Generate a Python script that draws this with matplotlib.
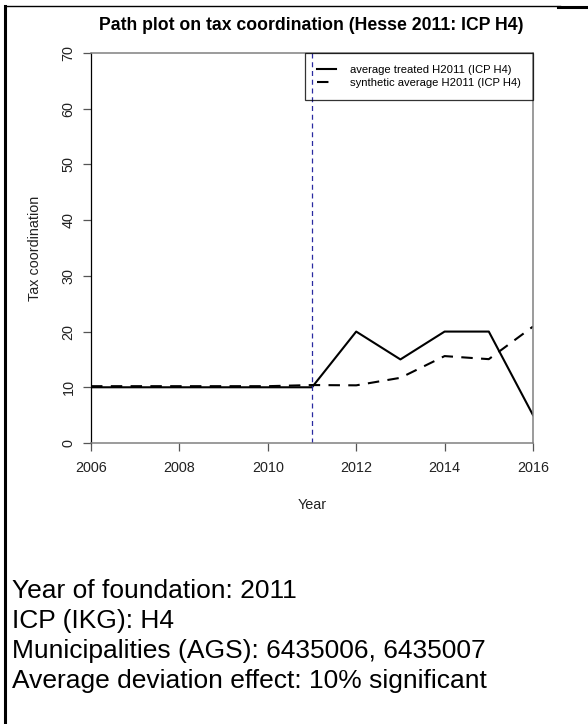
import matplotlib.pyplot as plt
from matplotlib.lines import Line2D

# dados do grafico
anos = [2006, 2007, 2008, 2009, 2010, 2011, 2012, 2013, 2014, 2015, 2016]
tratado = [10, 10, 10, 10, 10, 10, 20, 15, 20, 20, 5]
sintetico = [10.2, 10.2, 10.2, 10.2, 10.2, 10.4, 10.35, 11.7, 15.6, 15.05, 20.9]
ano_fundacao = 2011
x_ticks = [2006, 2008, 2010, 2012, 2014, 2016]
y_ticks = [0, 10, 20, 30, 40, 50, 60, 70]
legenda = ["average treated H2011 (ICP H4)", "synthetic average H2011 (ICP H4)"]
info = ["Year of foundation: 2011",
        "ICP (IKG): H4",
        "Municipalities (AGS): 6435006, 6435007",
        "Average deviation effect: 10% significant"]

plt.rcParams['font.family'] = ['Liberation Sans', 'DejaVu Sans']

W, H = 588, 724
fig = plt.figure(figsize=(W / 100, H / 100), dpi=100)

# posicao do eixo em pixels (esq, dir, topo, base)
l, r, t, b = 91, 533, 53, 443
ax = fig.add_axes([l / W, (H - b) / H, (r - l) / W, (b - t) / H])

ax.plot(anos, tratado, color="black", lw=1.5, label=legenda[0])
ax.plot(anos, sintetico, color="black", lw=1.5, dashes=(5.5, 4), label=legenda[1])
ax.axvline(ano_fundacao, color="#2a2aa0", lw=0.9, linestyle=(0, (4, 3)))

ax.set_xlim(2006, 2016)
ax.set_ylim(0, 70)
ax.set_xticks(x_ticks)
ax.set_yticks(y_ticks)
ax.tick_params(axis="both", direction="out", length=6, width=0.9, colors="#555555",
               labelcolor="#222222", labelsize=10.4)
ax.tick_params(axis="x", pad=7)
ax.tick_params(axis="y", pad=5)
for lab in ax.get_yticklabels():
    lab.set_rotation(90)
    lab.set_va("center")

for lado in ["top", "right", "bottom"]:
    ax.spines[lado].set_color("#808080")
    ax.spines[lado].set_linewidth(1.1)
ax.spines["left"].set_color("black")
ax.spines["left"].set_linewidth(0.9)

leg = ax.legend(loc="upper right", bbox_to_anchor=(1, 1), borderaxespad=0,
                fontsize=8.1, fancybox=False, edgecolor="black",
                handlelength=1.7, handletextpad=1.3, borderpad=1.05,
                labelspacing=0.3)
leg.get_frame().set_facecolor("none")
leg.get_frame().set_linewidth(0.9)

# textos
fig.text(311 / W, 1 - 25 / H, "Path plot on tax coordination (Hesse 2011: ICP H4)",
         ha="center", va="center", fontsize=12.7, fontweight="bold")
fig.text(312 / W, 1 - 505 / H, "Year", ha="center", va="center", fontsize=10.4,
         color="#222222")
fig.text(35 / W, 1 - 248 / H, "Tax coordination", ha="center", va="center",
         rotation=90, fontsize=10.4, color="#222222")

y0 = 598
for i, linha in enumerate(info):
    fig.text(12 / W, 1 - (y0 + i * 30) / H, linha, ha="left", va="baseline",
             fontsize=19)

# moldura
fig.add_artist(Line2D([5 / W, 5 / W], [0, 1 - 6 / H], color="black", lw=2.2))
fig.add_artist(Line2D([5 / W, 560 / W], [1 - 6 / H, 1 - 6 / H], color="black", lw=1))
fig.add_artist(Line2D([558 / W, 1], [1 - 7 / H, 1 - 7 / H], color="black", lw=2.2))

fig.savefig("out.png", dpi=100)
